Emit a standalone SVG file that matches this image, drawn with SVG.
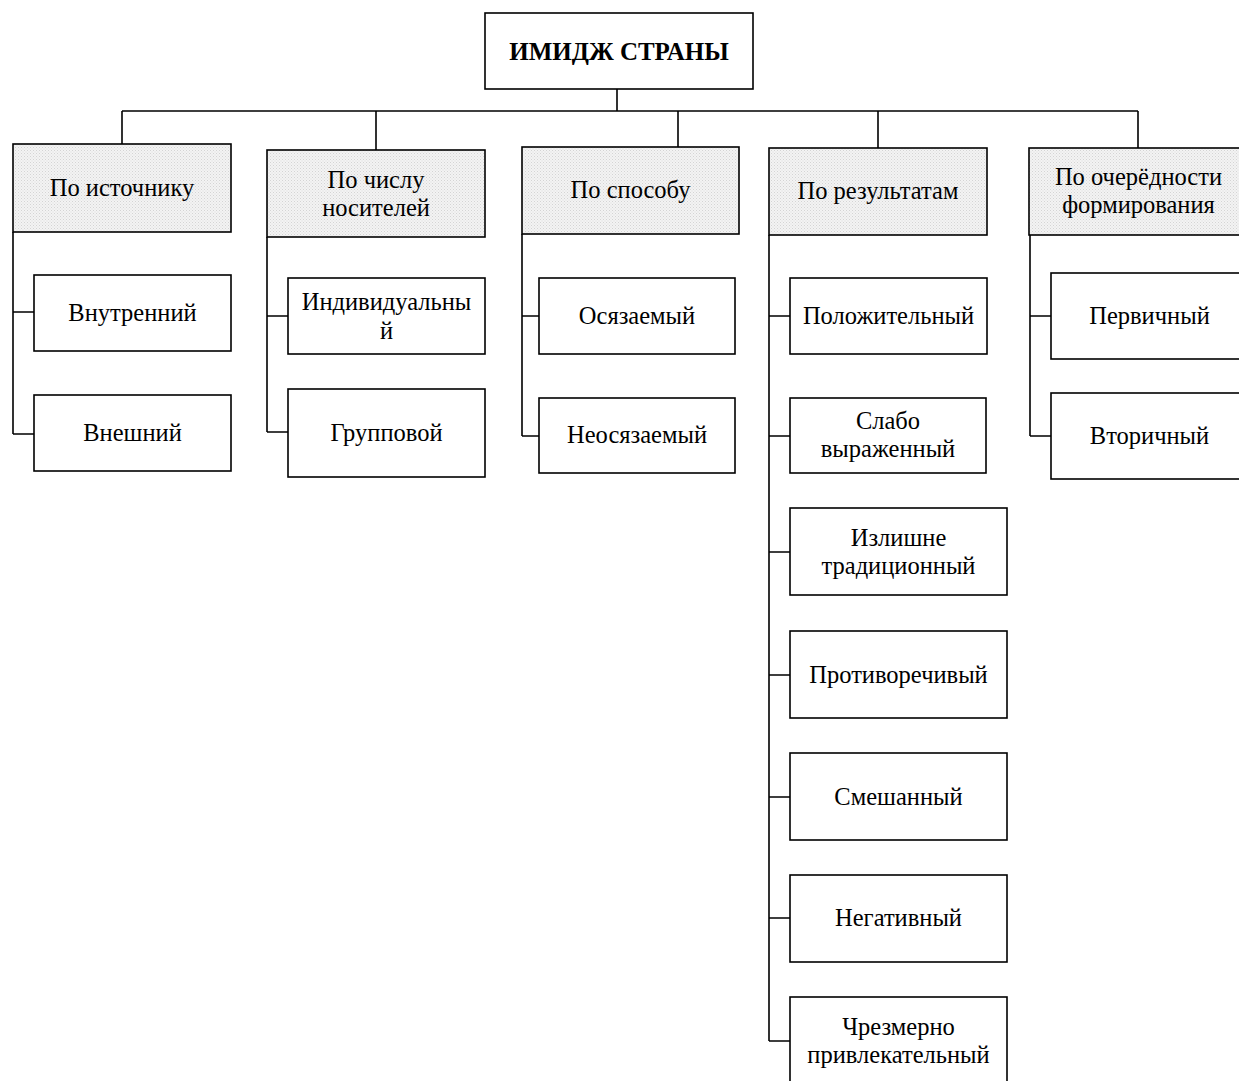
<svg xmlns="http://www.w3.org/2000/svg" width="1239" height="1081" viewBox="0 0 1239 1081">
<defs>
<pattern id="dots" width="3" height="3" patternUnits="userSpaceOnUse">
<rect width="3" height="3" fill="#f3f3f3"/>
<rect x="0" y="0" width="1" height="1" fill="#d4d4d4"/>
<rect x="1.5" y="1.5" width="1" height="1" fill="#dedede"/>
</pattern>
</defs>
<style>
.box{fill:#fff;stroke:#000;stroke-width:1.6}
.hdr{fill:url(#dots);stroke:#000;stroke-width:1.6}
.t{font-family:"Liberation Serif","Times New Roman",serif;font-size:24.5px;fill:#000;text-anchor:middle}
.title{font-family:"Liberation Serif","Times New Roman",serif;font-size:25px;font-weight:bold;fill:#000;text-anchor:middle}
.c{fill:none;stroke:#000;stroke-width:1.6}
</style>
<rect width="1239" height="1081" fill="#fff"/>
<g id="connectors">
<path class="c" d="M617 89V111M122 111H1138M122 111V144M376 111V150M678 111V147M878 111V148M1138 111V148"/>
<path class="c" d="M13 232V434M13 312H34M13 434H34"/>
<path class="c" d="M267 237V432M267 316H288M267 432H288"/>
<path class="c" d="M522 234V436M522 316H539M522 436H539"/>
<path class="c" d="M769 235V1041M769 316H790M769 436H790M769 552H790M769 675H790M769 797H790M769 918H790M769 1041H790"/>
<path class="c" d="M1030 235V436M1030 316H1051M1030 436H1051"/>
</g>
<g id="root"><rect class="box" x="485" y="13" width="268" height="76"/><text class="title" x="619" y="60">ИМИДЖ СТРАНЫ</text></g>
<g id="h1"><rect class="hdr" x="13" y="144" width="218" height="88"/><text class="t" x="122" y="196">По источнику</text></g>
<g id="h2"><rect class="hdr" x="267" y="150" width="218" height="87"/><text class="t" x="376" y="188">По числу</text><text class="t" x="376" y="216">носителей</text></g>
<g id="h3"><rect class="hdr" x="522" y="147" width="217" height="87"/><text class="t" x="630.5" y="198">По способу</text></g>
<g id="h4"><rect class="hdr" x="769" y="148" width="218" height="87"/><text class="t" x="878" y="199">По результатам</text></g>
<g id="h5"><rect class="hdr" x="1029" y="148" width="220" height="87"/><text class="t" x="1138.5" y="185">По очерёдности</text><text class="t" x="1138.5" y="213">формирования</text></g>
<g id="n1a"><rect class="box" x="34" y="275" width="197" height="76"/><text class="t" x="132.5" y="321">Внутренний</text></g>
<g id="n1b"><rect class="box" x="34" y="395" width="197" height="76"/><text class="t" x="132.5" y="441">Внешний</text></g>
<g id="n2a"><rect class="box" x="288" y="278" width="197" height="76"/><text class="t" x="386.5" y="310">Индивидуальны</text><text class="t" x="386.5" y="339">й</text></g>
<g id="n2b"><rect class="box" x="288" y="389" width="197" height="88"/><text class="t" x="386.5" y="441">Групповой</text></g>
<g id="n3a"><rect class="box" x="539" y="278" width="196" height="76"/><text class="t" x="637" y="324">Осязаемый</text></g>
<g id="n3b"><rect class="box" x="539" y="398" width="196" height="75"/><text class="t" x="637" y="443">Неосязаемый</text></g>
<g id="n4a"><rect class="box" x="790" y="278" width="197" height="76"/><text class="t" x="888.5" y="324">Положительный</text></g>
<g id="n4b"><rect class="box" x="790" y="398" width="196" height="75"/><text class="t" x="888" y="429">Слабо</text><text class="t" x="888" y="457">выраженный</text></g>
<g id="n4c"><rect class="box" x="790" y="508" width="217" height="87"/><text class="t" x="898.5" y="546">Излишне</text><text class="t" x="898.5" y="574">традиционный</text></g>
<g id="n4d"><rect class="box" x="790" y="631" width="217" height="87"/><text class="t" x="898.5" y="683">Противоречивый</text></g>
<g id="n4e"><rect class="box" x="790" y="753" width="217" height="87"/><text class="t" x="898.5" y="805">Смешанный</text></g>
<g id="n4f"><rect class="box" x="790" y="875" width="217" height="87"/><text class="t" x="898.5" y="926">Негативный</text></g>
<g id="n4g"><rect class="box" x="790" y="997" width="217" height="90"/><text class="t" x="898.5" y="1035">Чрезмерно</text><text class="t" x="898.5" y="1063">привлекательный</text></g>
<g id="n5a"><rect class="box" x="1051" y="273" width="198" height="86"/><text class="t" x="1149.5" y="324">Первичный</text></g>
<g id="n5b"><rect class="box" x="1051" y="393" width="198" height="86"/><text class="t" x="1149.5" y="444">Вторичный</text></g>
</svg>
